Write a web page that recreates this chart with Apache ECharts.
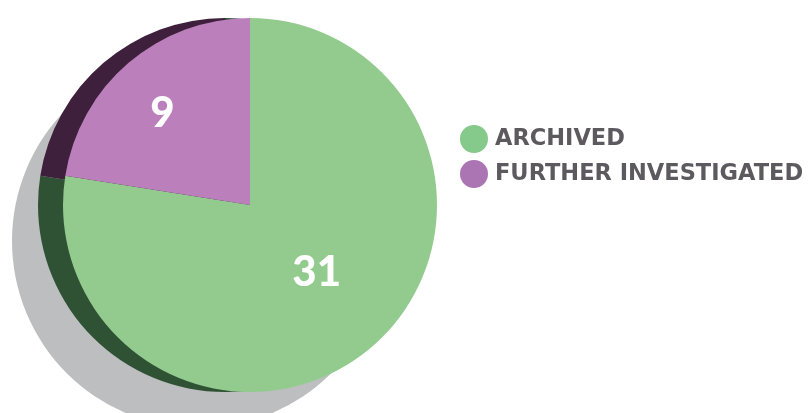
<!DOCTYPE html>
<html>
<head>
<meta charset="utf-8">
<script src="https://cdn.jsdelivr.net/npm/echarts@6/dist/echarts.min.js"></script>
<style>
	html, body { margin: 0; padding: 0; background: #fff; }
	#chart { width: 808px; height: 413px; }
</style>
</head>
<body>
<div id="chart"></div>
<script>
// data
var names = ['ARCHIVED', 'FURTHER INVESTIGATED'];
var values = [31, 9];
var topColors = ['#93cb8f', '#bb80bb'];
var legendColors = ['#85c98b', '#ab74b2'];
var darkColors = ['#2f5234', '#3e1f3c'];
var labelOffsets = [[4, -6], [-25, -18]];

window.onload = function(){
	var myChart = echarts.init(document.getElementById('chart'));

	var topData = [];
	var darkData = [];
	var legendData = [];
	for (var i = 0; i < names.length; i++) {
		topData.push({
			name: names[i],
			value: values[i],
			itemStyle: { color: topColors[i] },
			label: { offset: labelOffsets[i] }
		});
		darkData.push({
			name: names[i],
			value: values[i],
			itemStyle: { color: darkColors[i] }
		});
		legendData.push({
			name: names[i],
			itemStyle: { color: legendColors[i] }
		});
	}

	var option = {
		animation: false,
		legend: {
			orient: 'vertical',
			left: 455,
			top: 120,
			icon: 'circle',
			itemWidth: 28,
			itemHeight: 28,
			itemGap: 7,
			selectedMode: false,
			data: legendData,
			textStyle: {
				fontFamily: 'DejaVu Sans',
				fontWeight: 'bold',
				fontSize: 22.5,
				color: '#5c5a5f',
				padding: [0, 0, 0, 2]
			}
		},
		series: [
			{
				// grey shadow
				type: 'pie',
				silent: true,
				center: [199, 241],
				radius: 187,
				startAngle: 90,
				label: { show: false },
				labelLine: { show: false },
				itemStyle: { color: '#bdbec0' },
				data: [{ name: 'shadow', value: values[0] + values[1] }]
			},
			{
				// dark side
				type: 'pie',
				silent: true,
				center: [225, 205],
				radius: 187,
				startAngle: 90,
				label: { show: false },
				labelLine: { show: false },
				data: darkData
			},
			{
				type: 'pie',
				center: [250, 205],
				radius: 187,
				startAngle: 90,
				label: {
					show: true,
					position: 'inside',
					formatter: '{c}',
					color: '#fff',
					fontFamily: 'Lato',
					fontWeight: 900,
					fontSize: 42
				},
				labelLine: { show: false },
				data: topData
			}
		]
	};
	myChart.setOption(option);
}
</script>
</body>
</html>
